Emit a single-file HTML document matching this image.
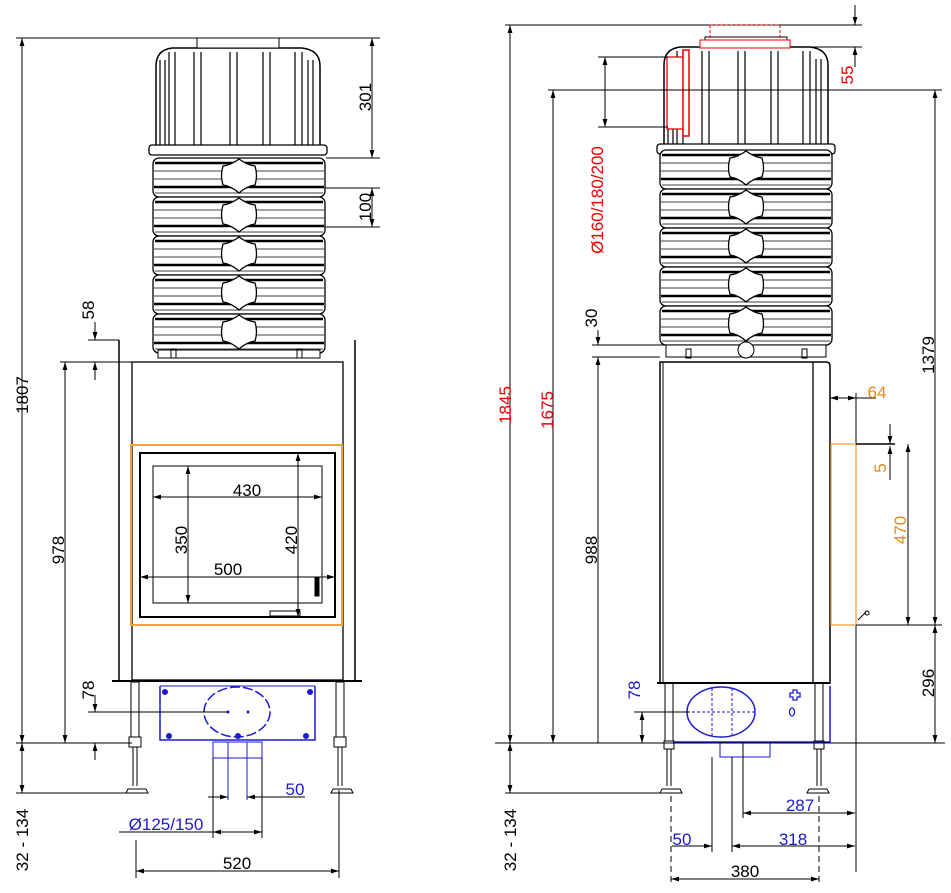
<!DOCTYPE html>
<html><head><meta charset="utf-8"><style>
html,body{margin:0;padding:0;background:#fff}
svg{display:block}
text{font-family:"Liberation Sans",Arial,sans-serif;font-size:17px}
</style></head><body>
<svg width="951" height="893" viewBox="0 0 951 893" xmlns="http://www.w3.org/2000/svg">
<defs>
<marker id="a" viewBox="0 0 10 6" refX="10" refY="3" markerWidth="8" markerHeight="5" orient="auto-start-reverse"><path d="M0,0L10,3L0,6z" fill="#000"/></marker>
<marker id="ab" viewBox="0 0 10 6" refX="10" refY="3" markerWidth="8" markerHeight="5" orient="auto-start-reverse"><path d="M0,0L10,3L0,6z" fill="#000"/></marker>
<g id="ring">
<rect x="0" y="0" width="172" height="39" rx="6" fill="#fff" stroke="#000" stroke-width="1.3"/>
<line x1="2" y1="5" x2="170" y2="5" stroke="#000" stroke-width="2.5"/>
<line x1="1" y1="13" x2="171" y2="13" stroke="#000" stroke-width="0.8"/>
<line x1="1" y1="21" x2="171" y2="21" stroke="#000" stroke-width="0.8"/>
<line x1="1" y1="29" x2="171" y2="29" stroke="#000" stroke-width="2.5"/>
<line x1="2" y1="35" x2="170" y2="35" stroke="#000" stroke-width="0.8"/>
<path d="M70,8 Q78,7 86,1 Q94,7 102,8 Q105,18 102,27 Q94,28 86,35 Q78,28 70,27 Q67,18 70,8z" fill="#fff" stroke="#000" stroke-width="1.3"/>
</g>
<g id="hood">
<path d="M4,108 L4,28 Q4,12 20,10 L150,10 Q168,12 168,28 L168,108" fill="#fff" stroke="#000" stroke-width="1.5"/>
<rect x="45" y="0" width="82" height="10" fill="#fff" stroke="#000"/>
<g stroke="#000" stroke-width="1.2" fill="none">
<path d="M8,110 V22 M13,110 V22"/>
<path d="M17,110 V14 M23,110 V14"/>
<path d="M42,110 V14 M49,110 V14"/>
<path d="M78,110 V14 M85,110 V14"/>
<path d="M111,110 V14 M118,110 V14"/>
<path d="M143,110 V14 M150,110 V14"/>
<path d="M156,110 V22 M161,110 V22"/>
</g>
<rect x="-3" y="107" width="178" height="10" rx="3" fill="#fff" stroke="#000" stroke-width="1.3"/>
</g>
</defs>
<g fill="none" stroke="#000" stroke-width="1">

<!-- ================= LEFT VIEW ================= -->
<line x1="16" y1="38" x2="380" y2="38"/>
<line x1="22" y1="38" x2="22" y2="743" marker-start="url(#a)" marker-end="url(#a)"/>
<use href="#hood" x="152" y="38"/>
<line x1="326" y1="158" x2="380" y2="158"/>
<line x1="372" y1="38" x2="372" y2="158" marker-start="url(#a)" marker-end="url(#a)"/>
<use href="#ring" x="153" y="158"/>
<use href="#ring" x="153" y="197"/>
<use href="#ring" x="153" y="236"/>
<use href="#ring" x="153" y="275"/>
<use href="#ring" x="153" y="314"/>
<line x1="325" y1="188" x2="380" y2="188"/>
<line x1="325" y1="227" x2="380" y2="227"/>
<line x1="372" y1="188" x2="372" y2="227" marker-start="url(#a)" marker-end="url(#a)"/>
<!-- base -->
<rect x="158" y="350" width="162" height="8" fill="#fff"/>
<rect x="171" y="349" width="5" height="9"/><rect x="297" y="349" width="5" height="9"/>
<line x1="119" y1="340" x2="119" y2="682" stroke-width="1.5"/>
<line x1="355" y1="340" x2="355" y2="682" stroke-width="1.5"/>
<rect x="132" y="362" width="211" height="318" stroke-width="1.3"/>
<line x1="112" y1="681" x2="362" y2="681" stroke-width="2"/>
<!-- 58 -->
<line x1="88" y1="340" x2="119" y2="340"/>
<line x1="60" y1="362" x2="132" y2="362"/>
<line x1="95" y1="322" x2="95" y2="340" marker-end="url(#a)"/>
<line x1="95" y1="380" x2="95" y2="362" marker-end="url(#a)"/>
<!-- 978 -->
<line x1="65" y1="362" x2="65" y2="743" marker-start="url(#a)" marker-end="url(#a)"/>
<!-- door -->
<rect x="131" y="445" width="211" height="180" stroke="#f0a040" stroke-width="2"/>
<rect x="140" y="453" width="195" height="164" stroke-width="2"/>
<rect x="153" y="466" width="169" height="137"/>
<line x1="153" y1="497" x2="322" y2="497" marker-start="url(#a)" marker-end="url(#a)"/>
<line x1="140" y1="577" x2="335" y2="577" marker-start="url(#a)" marker-end="url(#a)"/>
<line x1="188" y1="466" x2="188" y2="603" marker-start="url(#a)" marker-end="url(#a)"/>
<line x1="298" y1="453" x2="298" y2="617" marker-start="url(#a)" marker-end="url(#a)"/>
<rect x="315" y="578" width="4" height="18" fill="#000"/>
<rect x="270" y="611" width="30" height="5"/>
<!-- legs -->
<rect x="131" y="682" width="8" height="55"/><rect x="336" y="682" width="8" height="55"/>
<rect x="129" y="737" width="12" height="10"/><rect x="334" y="737" width="12" height="10"/>
<line x1="133" y1="747" x2="133" y2="786"/><line x1="137" y1="747" x2="137" y2="786"/>
<line x1="338" y1="747" x2="338" y2="786"/><line x1="342" y1="747" x2="342" y2="786"/>
<path d="M126,793 L148,793 L146,789 L128,789z"/><path d="M331,793 L353,793 L351,789 L333,789z"/>
<!-- blue box -->
<g stroke="#1a1ad0" stroke-width="1.5">
<path d="M160,686 V740 H315 V686"/>
<line x1="160" y1="686" x2="315" y2="686" stroke-width="1"/>
<ellipse cx="237" cy="712" rx="33" ry="25" stroke-dasharray="10,3"/>
<rect x="213" y="742" width="49" height="16" stroke-width="1"/>
<line x1="228" y1="742" x2="228" y2="800" stroke-width="1"/>
<line x1="247" y1="742" x2="247" y2="800" stroke-width="1"/>
</g>
<g fill="#1a1ad0" stroke="none">
<circle cx="165" cy="692" r="3"/><circle cx="310" cy="692" r="3"/>
<circle cx="169" cy="736" r="3"/><circle cx="238" cy="736" r="3"/><circle cx="306" cy="736" r="3"/>
<circle cx="228" cy="712" r="1.5"/><circle cx="248" cy="712" r="1.5"/>
</g>
<line x1="88" y1="712" x2="228" y2="712"/>
<line x1="16" y1="743" x2="132" y2="743"/>
<line x1="95" y1="695" x2="95" y2="712" marker-end="url(#a)"/>
<line x1="95" y1="760" x2="95" y2="743" marker-end="url(#a)"/>
<line x1="16" y1="793" x2="140" y2="793"/>
<line x1="22" y1="743" x2="22" y2="793" marker-start="url(#a)" marker-end="url(#a)"/>
<line x1="208" y1="797" x2="228" y2="797" marker-end="url(#a)"/>
<line x1="270" y1="797" x2="247" y2="797" marker-end="url(#a)"/>
<line x1="305" y1="797" x2="247" y2="797"/>
<line x1="213" y1="758" x2="213" y2="838"/><line x1="262" y1="758" x2="262" y2="838"/>
<line x1="119" y1="832" x2="213" y2="832"/>
<line x1="213" y1="832" x2="262" y2="832" marker-start="url(#a)" marker-end="url(#a)"/>
<line x1="136" y1="840" x2="136" y2="878"/><line x1="339" y1="790" x2="339" y2="878"/>
<line x1="136" y1="871" x2="339" y2="871" marker-start="url(#a)" marker-end="url(#a)"/>

<!-- ================= RIGHT VIEW ================= -->
<line x1="505" y1="25" x2="862" y2="25"/>
<line x1="760" y1="47" x2="862" y2="47"/>
<line x1="855" y1="5" x2="855" y2="25" marker-end="url(#a)"/>
<line x1="855" y1="67" x2="855" y2="47" marker-end="url(#a)"/>
<line x1="510" y1="25" x2="510" y2="743" marker-start="url(#a)" marker-end="url(#a)"/>
<use href="#hood" x="660" y="37"/>
<path d="M710,25 V42 M780,25 V42 M710,25 H780" stroke="#e00" stroke-dasharray="3,2"/>
<rect x="700" y="40" width="90" height="8" fill="#fff" stroke="#e00"/>
<rect x="667" y="57" width="18" height="72" fill="#fff" stroke="#e00" stroke-width="1.3"/>
<rect x="683" y="50" width="6" height="86" fill="#fff" stroke="#e00" stroke-width="1.5"/>
<line x1="598" y1="57" x2="668" y2="57"/><line x1="598" y1="127" x2="668" y2="127"/>
<line x1="605" y1="57" x2="605" y2="127" marker-start="url(#a)" marker-end="url(#a)"/>
<line x1="548" y1="90" x2="942" y2="90"/>
<line x1="553" y1="90" x2="553" y2="743" marker-start="url(#a)" marker-end="url(#a)"/>
<line x1="935" y1="90" x2="935" y2="625" marker-start="url(#a)" marker-end="url(#a)"/>
<use href="#ring" x="660" y="150"/>
<use href="#ring" x="660" y="189"/>
<use href="#ring" x="660" y="228"/>
<use href="#ring" x="660" y="267"/>
<use href="#ring" x="660" y="306"/>
<rect x="666" y="345" width="160" height="12" fill="#fff"/>
<circle cx="746" cy="350" r="8" fill="#fff"/>
<rect x="686" y="349" width="5" height="9"/><rect x="802" y="349" width="5" height="9"/>
<line x1="592" y1="345" x2="666" y2="345"/><line x1="592" y1="357" x2="660" y2="357"/>
<line x1="598" y1="330" x2="598" y2="345" marker-end="url(#a)"/>
<line x1="598" y1="743" x2="598" y2="357" marker-end="url(#a)"/>
<!-- body -->
<path d="M660,362 H826 Q830,362 830,366 V683 H660z" stroke-width="1.5"/>
<line x1="663" y1="362" x2="663" y2="683"/>
<line x1="813" y1="362" x2="813" y2="683" stroke-width="1.3"/>
<line x1="657" y1="683" x2="830" y2="683" stroke-width="2"/>
<!-- 64 -->
<line x1="856" y1="393" x2="856" y2="872"/>
<line x1="830" y1="398" x2="846" y2="398" marker-start="url(#a)"/>
<line x1="856" y1="398" x2="876" y2="398"/>
<line x1="846" y1="398" x2="856" y2="398" marker-end="url(#a)"/>
<rect x="831" y="444" width="25" height="181" stroke="#f0a040" stroke-width="1.3"/>
<line x1="856" y1="444" x2="895" y2="444" stroke-width="1.5"/>
<line x1="890" y1="424" x2="890" y2="444" marker-end="url(#a)"/>
<line x1="890" y1="480" x2="890" y2="446" marker-end="url(#a)"/>
<line x1="856" y1="625" x2="942" y2="625"/>
<line x1="908" y1="444" x2="908" y2="625" marker-start="url(#a)" marker-end="url(#a)"/>
<line x1="935" y1="625" x2="935" y2="743" marker-start="url(#a)" marker-end="url(#a)"/>
<path d="M858,620 L866,612" /><circle cx="867" cy="613" r="2"/>
<!-- legs -->
<rect x="665" y="683" width="8" height="58"/><rect x="815" y="683" width="8" height="58"/>
<rect x="664" y="741" width="10" height="8"/><rect x="814" y="741" width="10" height="8"/>
<line x1="667" y1="749" x2="667" y2="786"/><line x1="671" y1="749" x2="671" y2="786"/>
<line x1="817" y1="749" x2="817" y2="786"/><line x1="821" y1="749" x2="821" y2="786"/>
<path d="M660,793 L682,793 L680,789 L662,789z"/><path d="M807,793 L829,793 L827,789 L809,789z"/>
<g stroke="#1a1ad0" stroke-width="1.5">
<path d="M673,742 H830 V686"/>
<ellipse cx="721" cy="712" rx="34" ry="25"/>
<line x1="712" y1="688" x2="712" y2="737" stroke-width="1" stroke-dasharray="3,2"/>
<line x1="732" y1="688" x2="732" y2="737" stroke-width="1" stroke-dasharray="3,2"/>
<line x1="687" y1="712" x2="755" y2="712" stroke-width="1" stroke-dasharray="3,2"/>
<rect x="720" y="743" width="50" height="14" stroke-width="1"/>
<ellipse cx="792" cy="712" rx="2.5" ry="4" stroke-width="1.3"/>
<path d="M793,690 h4 v3 h3 v4 h-3 v3 h-4 v-3 h-3 v-4 h3z" stroke-width="1.3"/>
</g>
<line x1="495" y1="743" x2="945" y2="743"/>
<line x1="634" y1="712" x2="690" y2="712"/>
<line x1="642" y1="743" x2="642" y2="712" marker-start="url(#a)" marker-end="url(#a)"/>
<line x1="505" y1="793" x2="670" y2="793"/>
<line x1="510" y1="743" x2="510" y2="793" marker-start="url(#a)" marker-end="url(#a)"/>
<line x1="743" y1="743" x2="743" y2="818"/>
<line x1="743" y1="813" x2="855" y2="813" marker-start="url(#a)" marker-end="url(#a)"/>
<line x1="712" y1="757" x2="712" y2="852"/><line x1="732" y1="757" x2="732" y2="852"/>
<line x1="671" y1="796" x2="671" y2="885" stroke-dasharray="6,4"/>
<line x1="819" y1="796" x2="819" y2="885" stroke-dasharray="6,4"/>
<line x1="672" y1="846" x2="712" y2="846" marker-end="url(#a)"/>
<line x1="732" y1="846" x2="855" y2="846" marker-start="url(#a)" marker-end="url(#a)"/>
<line x1="671" y1="879" x2="819" y2="879" marker-start="url(#a)" marker-end="url(#a)"/>
</g>

<!-- TEXT -->
<g fill="#000">
<text transform="translate(28,395) rotate(-90)" text-anchor="middle">1807</text>
<text transform="translate(371,97) rotate(-90)" text-anchor="middle">301</text>
<text transform="translate(371,207) rotate(-90)" text-anchor="middle">100</text>
<text transform="translate(94,310) rotate(-90)" text-anchor="middle">58</text>
<text transform="translate(64,550) rotate(-90)" text-anchor="middle">978</text>
<text x="247" y="496" text-anchor="middle">430</text>
<text x="228" y="575" text-anchor="middle">500</text>
<text transform="translate(187,540) rotate(-90)" text-anchor="middle">350</text>
<text transform="translate(297,540) rotate(-90)" text-anchor="middle">420</text>
<text transform="translate(94,690) rotate(-90)" text-anchor="middle">78</text>
<text transform="translate(28,840) rotate(-90)" text-anchor="middle">32 - 134</text>
<text x="237" y="869" text-anchor="middle">520</text>
<text transform="translate(934,355) rotate(-90)" text-anchor="middle">1379</text>
<text transform="translate(934,683) rotate(-90)" text-anchor="middle">296</text>
<text transform="translate(597,550) rotate(-90)" text-anchor="middle">988</text>
<text transform="translate(597,318) rotate(-90)" text-anchor="middle">30</text>
<text transform="translate(516,840) rotate(-90)" text-anchor="middle">32 - 134</text>
<text x="745" y="877" text-anchor="middle">380</text>
</g>
<g fill="#1a1ad0">
<text x="295" y="795" text-anchor="middle">50</text>
<text x="166" y="830" text-anchor="middle">Ø125/150</text>
<text transform="translate(640,690) rotate(-90)" text-anchor="middle">78</text>
<text x="800" y="811" text-anchor="middle">287</text>
<text x="682" y="845" text-anchor="middle">50</text>
<text x="793" y="845" text-anchor="middle">318</text>
</g>
<g fill="#e00">
<text transform="translate(853,75) rotate(-90)" text-anchor="middle">55</text>
<text transform="translate(603,200) rotate(-90)" text-anchor="middle">Ø160/180/200</text>
<text transform="translate(511,405) rotate(-90)" text-anchor="middle">1845</text>
<text transform="translate(553,410) rotate(-90)" text-anchor="middle">1675</text>
</g>
<g fill="#e8891a">
<text x="877" y="398" text-anchor="middle">64</text>
<text transform="translate(886,468) rotate(-90)" text-anchor="middle">5</text>
<text transform="translate(906,530) rotate(-90)" text-anchor="middle">470</text>
</g>
</svg>
</body></html>
